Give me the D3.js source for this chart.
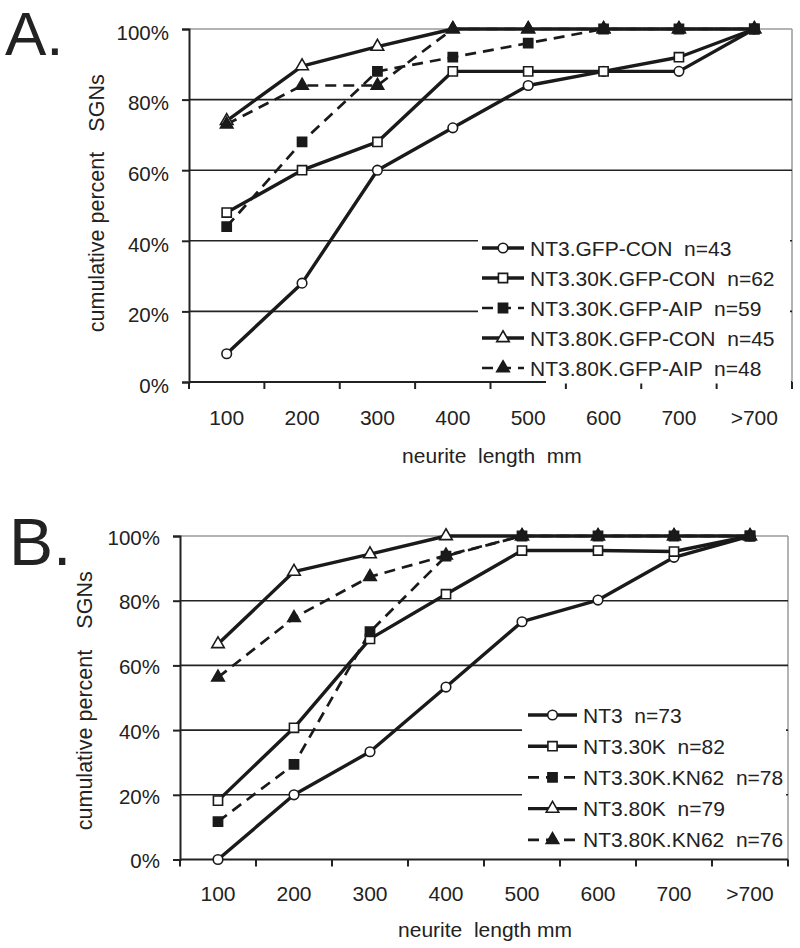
<!DOCTYPE html>
<html>
<head>
<meta charset="utf-8">
<script src="https://cdn.jsdelivr.net/npm/d3@7"></script>
<style>
  html, body { margin: 0; padding: 0; background: #fff; }
  svg text { font-family: "Liberation Sans", Arial, Helvetica, sans-serif; fill: #222; white-space: pre; }
</style>
</head>
<body>
<svg id="chart" width="800" height="948"></svg>
<script>
// ---- data ----
const categories = ["100", "200", "300", "400", "500", "600", "700", ">700"];
const yTickValues = [0, 20, 40, 60, 80, 100];

// Panel A
const aNames = ["NT3.GFP-CON  n=43", "NT3.30K.GFP-CON  n=62", "NT3.30K.GFP-AIP  n=59", "NT3.80K.GFP-CON  n=45", "NT3.80K.GFP-AIP  n=48"];
const aGfpCon   = [8, 28, 60, 72, 84, 88, 88, 100];
const a30kCon   = [48, 60, 68, 88, 88, 88, 92, 100];
const a30kAip   = [44, 68, 88, 92, 96, 100, 100, 100];
const a80kCon   = [74, 89.5, 95, 100, 100, 100, 100, 100];
const a80kAip   = [73, 84, 84, 100, 100, 100, 100, 100];

// Panel B
const bNames = ["NT3  n=73", "NT3.30K  n=82", "NT3.30K.KN62  n=78", "NT3.80K  n=79", "NT3.80K.KN62  n=76"];
const bNt3      = [0, 20, 33.3, 53.3, 73.5, 80.2, 93.4, 100];
const b30k      = [18.2, 40.7, 68.2, 82, 95.5, 95.5, 95.2, 100];
const b30kKn    = [11.7, 29.4, 70.4, 93.8, 100, 100, 100, 100];
const b80k      = [66.6, 89, 94.4, 100, 100, 100, 100, 100];
const b80kKn    = [56.3, 74.7, 87.4, 94, 100, 100, 100, 100];

const axisTitle = "neurite  length  mm";
const axisTitleB = "neurite  length mm";
const yTitle1 = "cumulative percent";
const yTitle2 = "SGNs";

// ---- styles per series (marker, fill, dashed) ----
const styles = [
  { shape: "circle",   filled: false, dashed: false },
  { shape: "square",   filled: false, dashed: false },
  { shape: "square",   filled: true,  dashed: true  },
  { shape: "triangle", filled: false, dashed: false },
  { shape: "triangle", filled: true,  dashed: true  }
];
// marker draw order (later on top)
const markerOrder = [0, 3, 4, 1, 2];

const FS = 21;
const svg = d3.select("#chart");

function symbolPath(shape) {
  if (shape === "circle") return d3.symbol(d3.symbolCircle, 72)();
  if (shape === "square") return d3.symbol(d3.symbolSquare, 84)();
  return d3.symbol(d3.symbolTriangle, 68)();
}

function drawPanel(cfg) {
  const g = svg.append("g");
  const x = d3.scaleBand().domain(categories).range([cfg.left, cfg.right]).padding(0);
  const y = d3.scaleLinear().domain([0, 100]).range([cfg.bottom, cfg.top]);
  const cx = c => x(c) + x.bandwidth() / 2;

  // top & right border (gray)
  g.append("line").attr("x1", cfg.left).attr("x2", cfg.right).attr("y1", y(100)).attr("y2", y(100))
    .attr("stroke", "#9a9a9a").attr("stroke-width", 1.5);
  g.append("line").attr("x1", cfg.right).attr("x2", cfg.right).attr("y1", y(100)).attr("y2", y(0))
    .attr("stroke", "#9a9a9a").attr("stroke-width", 1.5);

  // gridlines
  g.selectAll("line.grid").data(yTickValues.filter(v => v > 0 && v < 100)).enter()
    .append("line").attr("class", "grid")
    .attr("x1", cfg.left).attr("x2", cfg.right)
    .attr("y1", d => y(d)).attr("y2", d => y(d))
    .attr("stroke", "#222").attr("stroke-width", 1.6);

  // y axis
  const yAxis = d3.axisLeft(y).tickValues(yTickValues).tickFormat(d => d + "%").tickSize(7).tickPadding(13);
  const ya = g.append("g").attr("transform", `translate(${cfg.left},0)`).call(yAxis);
  ya.select(".domain").attr("stroke", "#222").attr("stroke-width", 2);
  ya.selectAll(".tick line").attr("stroke", "#222").attr("stroke-width", 2);
  ya.selectAll(".tick text").attr("font-size", FS - 0.5).attr("fill", "#222")
    .attr("font-family", '"Liberation Sans", Arial, sans-serif').attr("dy", cfg.yTickDy);

  // x axis: ticks on band boundaries
  const xa = g.append("g").attr("transform", `translate(0,${cfg.bottom})`);
  xa.append("line").attr("x1", cfg.left).attr("x2", cfg.right).attr("y1", 0).attr("y2", 0)
    .attr("stroke", "#222").attr("stroke-width", 2);
  const bounds = categories.map(c => x(c)).concat([x(categories[categories.length - 1]) + x.bandwidth()]);
  xa.selectAll("line.tk").data(bounds).enter().append("line").attr("class", "tk")
    .attr("x1", d => d).attr("x2", d => d).attr("y1", 0).attr("y2", 7)
    .attr("stroke", "#222").attr("stroke-width", 2);
  xa.selectAll("text.tl").data(categories).enter().append("text").attr("class", "tl")
    .attr("x", d => cx(d)).attr("y", cfg.tickLabelDy)
    .attr("text-anchor", "middle").attr("font-size", FS).text(d => d);

  // axis titles
  g.append("text").attr("x", cfg.xTitleX).attr("y", cfg.xTitleY).attr("text-anchor", "middle")
    .attr("font-size", FS).text(cfg.xTitle);
  g.append("text").attr("transform", `translate(${cfg.yTitleX},${cfg.yTitle1Y}) rotate(-90)`)
    .attr("text-anchor", "middle").attr("font-size", FS + 0.5).text(yTitle1);
  g.append("text").attr("transform", `translate(${cfg.yTitleX},${cfg.yTitle2Y}) rotate(-90)`)
    .attr("text-anchor", "middle").attr("font-size", FS + 0.5).text(yTitle2);

  // panel letter
  g.append("text").attr("x", cfg.letterX).attr("y", cfg.letterY).attr("font-size", cfg.letterSize)
    .attr("fill", "#111").text(cfg.letter);

  // legend background
  const lg = g.append("g");
  lg.append("rect").attr("x", cfg.legX).attr("y", cfg.legY).attr("width", cfg.legW).attr("height", cfg.legH)
    .attr("fill", "#fff");
  if (cfg.axisMaskX) {
    lg.append("rect").attr("x", cfg.axisMaskX).attr("y", cfg.bottom - 1.5).attr("width", cfg.right - 1 - cfg.axisMaskX)
      .attr("height", 3).attr("fill", "#fff");
  }

  const line = d3.line().x((d, i) => cx(categories[i])).y(d => y(d));

  const sg = g.insert("g", () => lg.node());
  cfg.series.forEach((vals, si) => {
    const st = styles[si];
    sg.append("path").datum(vals).attr("d", line).attr("fill", "none")
      .attr("stroke", "#1a1a1a").attr("stroke-width", st.dashed ? 2.7 : 3.4)
      .attr("stroke-dasharray", st.dashed ? "11,7" : null).attr("stroke-linejoin", "round");
  });
  const mg = g.append("g");
  markerOrder.forEach(si => {
    const st = styles[si];
    mg.selectAll(null).data(cfg.series[si]).enter().append("path")
      .attr("d", symbolPath(st.shape))
      .attr("transform", (d, i) => `translate(${cx(categories[i])},${y(d)})`)
      .attr("fill", st.filled ? "#1a1a1a" : "#fff")
      .attr("stroke", "#1a1a1a").attr("stroke-width", 1.6);
  });

  // legend entries
  cfg.names.forEach((name, i) => {
    const st = styles[i];
    const ry = cfg.legRow0 + i * cfg.legStep;
    lg.append("line").attr("x1", cfg.legLine0).attr("x2", cfg.legLine1).attr("y1", ry).attr("y2", ry)
      .attr("stroke", "#1a1a1a").attr("stroke-width", st.dashed ? 2.7 : 3.4)
      .attr("stroke-dasharray", st.dashed ? "11,7" : null);
    lg.append("path").attr("d", symbolPath(st.shape))
      .attr("transform", `translate(${(cfg.legLine0 + cfg.legLine1) / 2},${ry})`)
      .attr("fill", st.filled ? "#1a1a1a" : "#fff").attr("stroke", "#1a1a1a").attr("stroke-width", 1.6);
    lg.append("text").attr("x", cfg.legText).attr("y", ry + 7.5).attr("font-size", FS).text(name);
  });
}

drawPanel({
  left: 189, right: 792, top: 29, bottom: 382, yTickDy: "0.5em",
  tickLabelDy: 43, xTitle: axisTitle, xTitleX: 492, xTitleY: 463,
  yTitleX: 104, yTitle1Y: 242, yTitle2Y: 103,
  letter: "A.", letterX: 5, letterY: 55, letterSize: 62,
  legX: 478, legY: 233, legW: 312, legH: 148, axisMaskX: 546,
  legRow0: 248, legStep: 30, legLine0: 482, legLine1: 524, legText: 530,
  names: aNames,
  series: [aGfpCon, a30kCon, a30kAip, a80kCon, a80kAip]
});

drawPanel({
  left: 180, right: 788, top: 536, bottom: 859.5, yTickDy: "0.4em",
  tickLabelDy: 41, xTitle: axisTitleB, xTitleX: 485, xTitleY: 937,
  yTitleX: 92, yTitle1Y: 740, yTitle2Y: 600,
  letter: "B.", letterX: 9, letterY: 565, letterSize: 66,
  legX: 522, legY: 700, legW: 264, legH: 158, axisMaskX: null,
  legRow0: 715, legStep: 31.2, legLine0: 528, legLine1: 577, legText: 583,
  names: bNames,
  series: [bNt3, b30k, b30kKn, b80k, b80kKn]
});
</script>
</body>
</html>
